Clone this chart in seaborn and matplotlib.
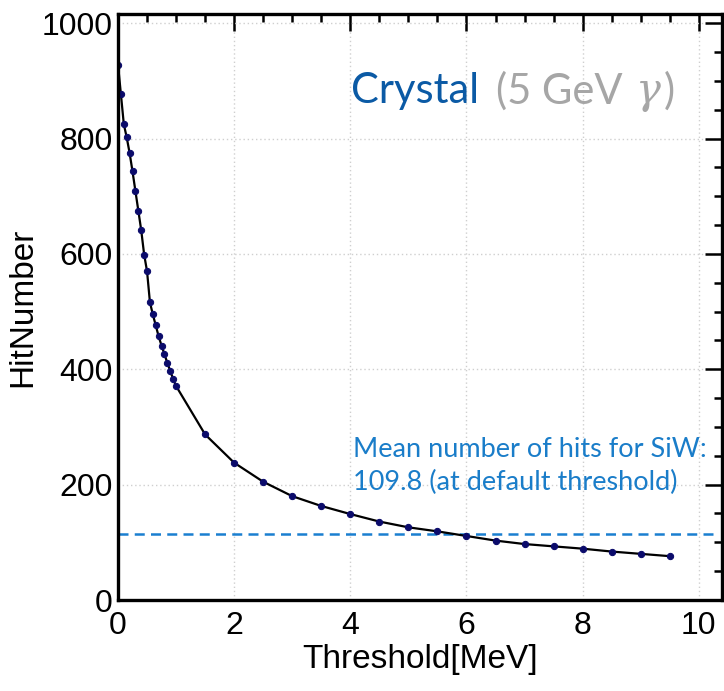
import matplotlib
matplotlib.use("Agg")
import matplotlib.pyplot as plt
import seaborn as sns
import pandas as pd
from matplotlib.ticker import MultipleLocator

# ---- data ----
threshold = [0.0, 0.05, 0.1, 0.15, 0.2, 0.25, 0.3, 0.35, 0.4, 0.45, 0.5,
             0.55, 0.6, 0.65, 0.7, 0.75, 0.8, 0.85, 0.9, 0.95, 1.0,
             1.5, 2.0, 2.5, 3.0, 3.5, 4.0, 4.5, 5.0, 5.5, 6.0, 6.5,
             7.0, 7.5, 8.0, 8.5, 9.0, 9.5]
hit_number = [928, 877, 825, 802, 775, 743, 709, 675, 641, 599, 570,
              516, 495, 476, 457, 441, 426, 411, 397, 383, 371,
              287, 238, 205, 180, 163, 149, 136, 126, 119, 111, 103,
              97, 93, 89, 84, 80, 76]
siw_reference = 115
siw_label = ["Mean number of hits for SiW:", "109.8 (at default threshold)"]
title_main = "Crystal"
title_sub = "(5 GeV "
title_gamma = "γ"
title_end = ")"

df = pd.DataFrame({"Threshold": threshold, "HitNumber": hit_number})

sns.set_theme(style="white")
plt.rcParams["font.family"] = ["Liberation Sans", "DejaVu Sans"]
plt.rcParams["text.color"] = "black"
plt.rcParams["axes.labelcolor"] = "black"

fig = plt.figure(figsize=(7.24, 6.91), dpi=100)
ax = fig.add_axes([118 / 724, 1 - 600 / 691, (722 - 118) / 724, (600 - 14) / 691])

sns.lineplot(data=df, x="Threshold", y="HitNumber", ax=ax, color="black",
             linewidth=1.6, marker="o", markersize=4.5,
             markerfacecolor="#0b0b6b", markeredgecolor="#0b0b6b")

ax.hlines(siw_reference, 0, 10.3, colors="#1a7fd0", linestyles=(0, (4, 2.5)),
          linewidth=1.8, zorder=1)

ax.set_xlim(0, 10.4)
ax.set_ylim(0, 1016)
ax.xaxis.set_major_locator(MultipleLocator(2))
ax.xaxis.set_minor_locator(MultipleLocator(0.5))
ax.yaxis.set_major_locator(MultipleLocator(200))
ax.yaxis.set_minor_locator(MultipleLocator(50))

ax.grid(True, which="major", color="#cfcfcf", linestyle=(0, (1, 2)), linewidth=1.0)
ax.tick_params(which="both", direction="in", top=True, right=True,
               labelsize=23, colors="black", labelcolor="black", width=1.8)
ax.tick_params(which="major", length=12)
ax.tick_params(which="minor", length=6)
ax.tick_params(axis="x", pad=8)
ax.tick_params(axis="y", pad=4)
for sp in ax.spines.values():
    sp.set_linewidth(2.4)
    sp.set_color("black")

ax.set_xlabel("Threshold[MeV]", fontsize=24, labelpad=2, color="black")
ax.set_ylabel("HitNumber", fontsize=24, labelpad=2, color="black")

# title pieces
t1 = ax.text(4.02, 861, title_main, fontsize=30, color="#0b5aa5",
             family=["Lato", "DejaVu Sans"], va="baseline", ha="left")
fig.canvas.draw()
r = fig.canvas.get_renderer()
bb = t1.get_window_extent(r)
inv = ax.transData.inverted()
x2 = inv.transform((bb.x1 + 17, 0))[0]
t2 = ax.text(x2, 861, title_sub, fontsize=30, color="#a6a6a6",
             family=["Lato", "DejaVu Sans"], va="baseline", ha="left")
fig.canvas.draw()
bb = t2.get_window_extent(r)
x3 = inv.transform((bb.x1 + 2, 0))[0]
t3 = ax.text(x3, 861, title_gamma, fontsize=30, color="#a6a6a6",
             family=["DejaVu Serif"], style="italic", va="baseline", ha="left")
fig.canvas.draw()
bb = t3.get_window_extent(r)
x4 = inv.transform((bb.x1 + 3, 0))[0]
ax.text(x4, 861, title_end, fontsize=30, color="#a6a6a6",
        family=["Lato", "DejaVu Sans"], va="baseline", ha="left")

ax.text(4.04, 248, siw_label[0], fontsize=19.5, color="#1a7dc9",
        family=["Lato", "DejaVu Sans"], va="baseline", ha="left")
ax.text(4.04, 191, siw_label[1], fontsize=19.5, color="#1a7dc9",
        family=["Lato", "DejaVu Sans"], va="baseline", ha="left")

fig.savefig("out.png", dpi=100)
